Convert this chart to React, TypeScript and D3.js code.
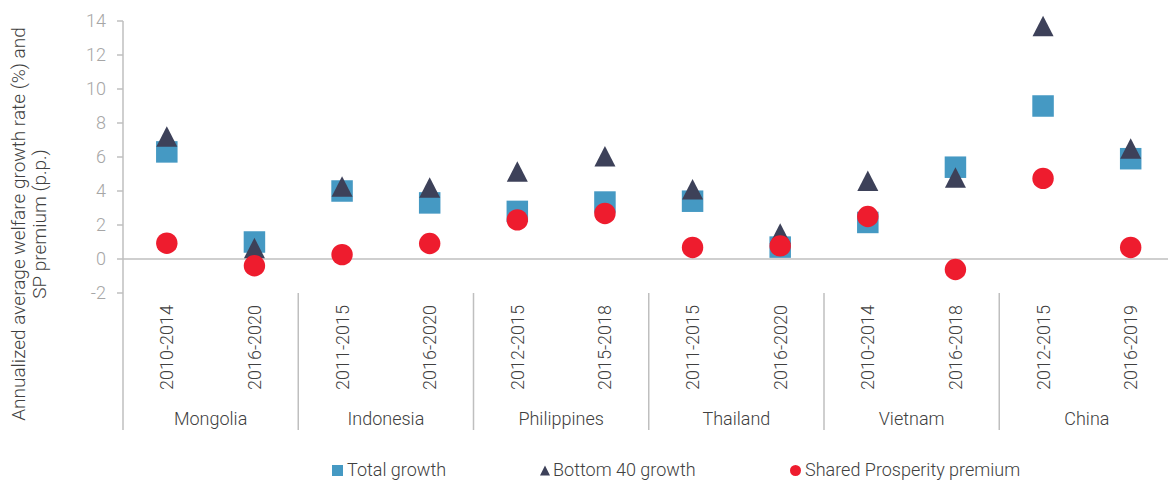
import React from "react";
import * as d3 from "d3";

const countries = ["Mongolia", "Indonesia", "Philippines", "Thailand", "Vietnam", "China"];
const periods = [
  "2010-2014", "2016-2020",
  "2011-2015", "2016-2020",
  "2012-2015", "2015-2018",
  "2011-2015", "2016-2020",
  "2010-2014", "2016-2018",
  "2012-2015", "2016-2019",
];
const totalGrowth = [6.3, 1.0, 4.0, 3.3, 2.8, 3.35, 3.4, 0.7, 2.15, 5.4, 9.0, 5.9];
const bottom40Growth = [7.2, 0.65, 4.26, 4.2, 5.15, 6.05, 4.1, 1.5, 4.6, 4.8, 13.7, 6.5];
const spPremium = [0.93, -0.4, 0.26, 0.91, 2.3, 2.68, 0.68, 0.77, 2.5, -0.62, 4.74, 0.68];
const yTicks = [-2, 0, 2, 4, 6, 8, 10, 12, 14];
const legendLabels = ["Total growth", "Bottom 40 growth", "Shared Prosperity premium"];

const BLUE = "#4599C3";
const DARK = "#3D4159";
const RED = "#EE1C2E";
const AXIS = "#BFBFBF";
const TEXT = "#404040";
const TICK_TEXT = "#A6A6A6";
const FONT = "Roboto, 'Open Sans', sans-serif";

export default function App() {
  const W = 1168;
  const H = 480;
  const idx = periods.map((_, i) => i);
  const x = d3.scaleBand<number>().domain(idx).range([123, 1174.5]).padding(0);
  const y = d3.scaleLinear().domain([-2, 14]).range([293, 21]);
  const bw = x.bandwidth();
  const cx = (i: number) => (x(i) as number) + bw / 2;
  const axisBottom = 430;

  const tri = (px: number, py: number, w: number, h: number) =>
    `M${px},${py - h / 2}L${px + w / 2},${py + h / 2}L${px - w / 2},${py + h / 2}Z`;

  const sq = 21.5;

  return (
    <svg width={W} height={H} style={{ position: "absolute", left: 0, top: 0, display: "block" }}>
      <rect width={W} height={H} fill="#fff" />
      {/* y axis title */}
      <g fontFamily={FONT} fontWeight={300} fontSize={19} fill={TEXT}>
        <text transform={`translate(25,224) rotate(-90)`} textAnchor="middle">
          Annualized average welfare growth rate (%) and
        </text>
        <text transform={`translate(46,224) rotate(-90)`} textAnchor="middle">
          SP premium (p.p.)
        </text>
      </g>
      {/* y axis */}
      <line x1={123} x2={123} y1={y(14)} y2={axisBottom} stroke={AXIS} strokeWidth={1.5} />
      {yTicks.map((t) => (
        <g key={t}>
          <line x1={117} x2={123} y1={y(t)} y2={y(t)} stroke={AXIS} strokeWidth={1.5} />
          <text
            x={106}
            y={y(t)}
            dy="0.36em"
            textAnchor="end"
            fontFamily={FONT}
            fontWeight={300}
            fontSize={18}
            fill={TICK_TEXT}
          >
            {t}
          </text>
        </g>
      ))}
      {/* zero line */}
      <line x1={123} x2={W} y1={y(0)} y2={y(0)} stroke={AXIS} strokeWidth={1.5} />
      {/* category dividers */}
      {countries.map((c, k) =>
        k === 0 ? null : (
          <line
            key={c}
            x1={x(k * 2) as number}
            x2={x(k * 2) as number}
            y1={y(-2)}
            y2={axisBottom}
            stroke={AXIS}
            strokeWidth={1.5}
          />
        )
      )}
      {/* period labels */}
      {periods.map((p, i) => (
        <text
          key={i}
          transform={`translate(${cx(i)},305) rotate(-90)`}
          textAnchor="end"
          dy="0.36em"
          fontFamily={FONT}
          fontWeight={300}
          fontSize={18}
          fill={TEXT}
        >
          {p}
        </text>
      ))}
      {/* country labels */}
      {countries.map((c, k) => (
        <text
          key={c}
          x={((x(k * 2) as number) + (x(k * 2 + 1) as number) + bw) / 2}
          y={425}
          textAnchor="middle"
          fontFamily={FONT}
          fontWeight={300}
          fontSize={18}
          fill={TEXT}
        >
          {c}
        </text>
      ))}
      {/* markers */}
      {totalGrowth.map((v, i) => (
        <rect key={"s" + i} x={cx(i) - sq / 2} y={y(v) - sq / 2} width={sq} height={sq} fill={BLUE} />
      ))}
      {bottom40Growth.map((v, i) => (
        <path key={"t" + i} d={tri(cx(i), y(v), 21, 20.5)} fill={DARK} />
      ))}
      {spPremium.map((v, i) => (
        <circle key={"c" + i} cx={cx(i)} cy={y(v)} r={10.7} fill={RED} />
      ))}
      {/* legend */}
      <g fontFamily={FONT} fontWeight={300} fontSize={18} fill={TEXT}>
        <rect x={332} y={465} width={11} height={11} fill={BLUE} />
        <text x={347} y={476}>{legendLabels[0]}</text>
        <path d={tri(545, 470.5, 10, 10)} fill={DARK} />
        <text x={553} y={476}>{legendLabels[1]}</text>
        <circle cx={795.5} cy={470.5} r={5.5} fill={RED} />
        <text x={805} y={476}>{legendLabels[2]}</text>
      </g>
    </svg>
  );
}
